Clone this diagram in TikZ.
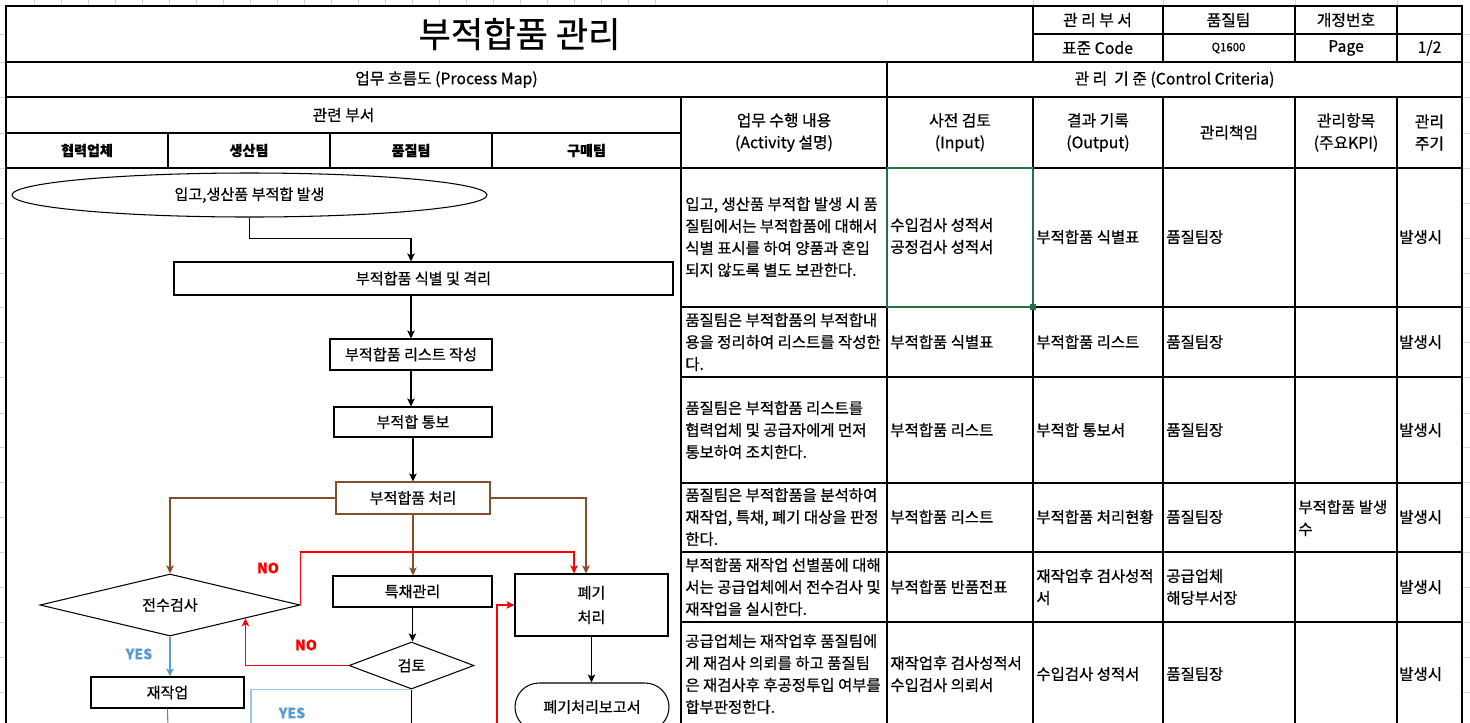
\documentclass[tikz,border=0pt]{standalone}
\usepackage{fontspec}
\setmainfont{Noto Sans CJK KR}[RawFeature={embolden=0.6}]
\usetikzlibrary{arrows.meta, shapes.geometric, shapes.misc, calc}
\definecolor{brownline}{RGB}{132,78,45}
\definecolor{xlblue}{RGB}{91,155,213}
\definecolor{xllightblue}{RGB}{157,195,230}
\definecolor{xlgreen}{RGB}{33,115,70}
\definecolor{gridgray}{RGB}{214,214,214}
\newcommand{\cellfont}{\fontsize{8.8}{12.5}\selectfont}
\newcommand{\flowfont}{\fontsize{8.6}{12.5}\selectfont}
\newcommand{\headfont}{\fontsize{9}{12.5}\selectfont}
\newcommand{\deptfont}{\fontsize{8}{9}\selectfont\bfseries}
\tikzset{
  frame line/.style={
    line width=1.4pt,
    color=black
  },
  table line/.style={
    line width=0.7pt,
    color=black
  },
  grid line/.style={
    line width=0.4pt,
    color=gridgray
  },
  flow arrow/.style={
    -{Stealth[length=4.5pt, width=4.2pt, inset=1pt]},
    line width=0.6pt
  },
  proc box/.style={
    draw,
    rectangle,
    inner sep=0pt,
    line width=0.6pt,
    font=\flowfont
  },
  dec diamond/.style={
    draw,
    diamond,
    inner sep=0pt,
    line width=0.6pt,
    font=\flowfont
  },
  cell text/.style={
    anchor=west,
    align=left,
    inner sep=0pt,
    font=\cellfont
  },
  head text/.style={
    align=center,
    inner sep=0pt,
    font=\headfont
  },
  yes label/.style={
    inner sep=0pt,
    font=\fontsize{8}{9}\selectfont\bfseries,
    text=xlblue
  },
  no label/.style={
    inner sep=0pt,
    font=\fontsize{8}{9}\selectfont\bfseries,
    text=red
  }
}

\begin{document}
\begin{tikzpicture}[x=0.2mm, y=-0.2mm]
    \clip (0,0) rectangle (1470,722);
    \fill[white] (0,0) rectangle (1470,722);

    % 1. 엑셀 눈금선
    \foreach \gx in {34,61,...,681,887,1033,1163,1295,1397}{
      \draw[grid line] (\gx,0) -- (\gx,6);
    }
    \foreach \gy in {34,62,97,133,168,203,238,273,307,342,377,413,447,482,517,552,587,622,657,692}{
      \draw[grid line] (0,\gy) -- (6,\gy);
      \draw[grid line] (1462,\gy) -- (1470,\gy);
    }

    % 2. 표 선
    \draw[table line] (1033,34) -- (1462,34);
    \draw[table line] (6,62) -- (1462,62);
    \draw[table line] (6,97) -- (1462,97);
    \draw[table line] (6,133) -- (681,133);
    \draw[table line] (6,168) -- (1462,168);
    \foreach \ry in {307,377,483,552,622}{
      \draw[table line] (681,\ry) -- (1462,\ry);
    }
    \foreach \cx in {1033,1163,1295,1397}{
      \draw[table line] (\cx,6) -- (\cx,62);
      \draw[table line] (\cx,97) -- (\cx,730);
    }
    \draw[table line] (887,62) -- (887,730);
    \draw[table line] (681,97) -- (681,730);
    \foreach \cx in {168,330,492}{
      \draw[table line] (\cx,133) -- (\cx,168);
    }
    % 바깥 테두리
    \draw[frame line] (6,730) -- (6,6) -- (1462,6) -- (1462,730);
    % 선택된 셀
    \draw[xlgreen, line width=1.1pt] (887,168) rectangle (1033,307);
    \fill[xlgreen] (1030,304) rectangle (1036,310);

    % 3. 머리글
    \node[inner sep=0pt, font=\fontsize{20}{22}\selectfont] (title) at (519.5,34) {부적합품 관리};
    \node[head text] (mgrdept) at (1097.5,20) {관 리 부 서};
    \node[head text] (mgrteam) at (1228.5,20) {품질팀};
    \node[head text] (revno) at (1346,20) {개정번호};
    \node[head text] (stdcode) at (1097.5,48) {표준 Code};
    \node[head text, font=\fontsize{6.5}{8}\selectfont] (codeval) at (1228.5,48) {Q1600};
    \node[head text] (pagelbl) at (1346,48) {Page};
    \node[head text] (pageval) at (1429.5,48) {1/2};
    \node[head text] (procmap) at (446.5,79.5) {업무 흐름도 (Process Map)};
    \node[head text] (criteria) at (1174.5,79.5) {관 리~~기 준 (Control Criteria)};
    \node[head text] (reldept) at (343.5,115) {관련 부서};
    \node[inner sep=0pt, font=\deptfont] (partner) at (87,150.5) {협력업체};
    \node[inner sep=0pt, font=\deptfont] (prodteam) at (249,150.5) {생산팀};
    \node[inner sep=0pt, font=\deptfont] (qteam) at (411,150.5) {품질팀};
    \node[inner sep=0pt, font=\deptfont] (buyteam) at (586.5,150.5) {구매팀};
    \node[head text] (hactivity) at (784,132.5) {업무 수행 내용\\(Activity 설명)};
    \node[head text] (hinput) at (960,132.5) {사전 검토\\(Input)};
    \node[head text] (houtput) at (1098,132.5) {결과 기록\\(Output)};
    \node[head text] (hresp) at (1229,132.5) {관리책임};
    \node[head text] (hkpi) at (1346,132.5) {관리항목\\(주요KPI)};
    \node[head text] (hcycle) at (1429.5,132.5) {관리\\주기};

    % 4. 관리 기준 내용
    \node[cell text] (act1) at (685,237) {입고, 생산품 부적합 발생 시 품\\질팀에서는 부적합품에 대해서\\식별 표시를 하여 양품과 혼입\\되지 않도록 별도 보관한다.};
    \node[cell text] (act2) at (685,342) {품질팀은 부적합품의 부적합내\\용을 정리하여 리스트를 작성한\\다.};
    \node[cell text] (act3) at (685,430) {품질팀은 부적합품 리스트를\\협력업체 및 공급자에게 먼저\\통보하여 조치한다.};
    \node[cell text] (act4) at (685,517) {품질팀은 부적합품을 분석하여\\재작업, 특채, 폐기 대상을 판정\\한다.};
    \node[cell text] (act5) at (685,587) {부적합품 재작업 선별품에 대해\\서는 공급업체에서 전수검사 및\\재작업을 실시한다.};
    \node[cell text] (act6) at (685,674) {공급업체는 재작업후 품질팀에\\게 재검사 의뢰를 하고 품질팀\\은 재검사후 후공정투입 여부를\\합부판정한다.};

    \node[cell text] (in1) at (890,236) {수입검사 성적서\\공정검사 성적서};
    \node[cell text] (in2) at (890,342) {부적합품 식별표};
    \node[cell text] (in3) at (890,430) {부적합품 리스트};
    \node[cell text] (in4) at (890,517) {부적합품 리스트};
    \node[cell text] (in5) at (890,587) {부적합품 반품전표};
    \node[cell text] (in6) at (890,674) {재작업후 검사성적서\\수입검사 의뢰서};

    \node[cell text] (out1) at (1036,237) {부적합품 식별표};
    \node[cell text] (out2) at (1036,342) {부적합품 리스트};
    \node[cell text] (out3) at (1036,430) {부적합 통보서};
    \node[cell text] (out4) at (1036,517) {부적합품 처리현황};
    \node[cell text] (out5) at (1036,587) {재작업후 검사성적\\서};
    \node[cell text] (out6) at (1036,674) {수입검사 성적서};

    \foreach \ry/\rn in {237/1,342/2,430/3,517/4,674/6}{
      \node[cell text] (resp\rn) at (1166,\ry) {품질팀장};
    }
    \node[cell text] (resp5) at (1166,587) {공급업체\\해당부서장};
    \node[cell text] (kpi4) at (1298,518) {부적합품 발생\\수};
    \foreach \ry/\rn in {237/1,342/2,430/3,517/4,587/5,674/6}{
      \node[cell text] (cycle\rn) at (1399,\ry) {발생시};
    }

    % 5. 업무 흐름도
    \node[draw, ellipse, inner sep=0pt, line width=0.6pt, font=\flowfont,
      minimum width=95mm, minimum height=8.8mm] (start) at (249.5,195) {입고,생산품 부적합 발생};
    \node[proc box, minimum width=99.8mm, minimum height=6.6mm] (identify) at (423.5,278.5) {부적합품 식별 및 격리};
    \node[proc box, minimum width=32.4mm, minimum height=6.2mm] (list) at (411,354.5) {부적합품 리스트 작성};
    \node[proc box, minimum width=31.6mm, minimum height=6mm] (notice) at (413,422) {부적합 통보};
    \node[proc box, draw=brownline, minimum width=30.8mm, minimum height=6.4mm] (process) at (413,498) {부적합품 처리};
    \node[dec diamond, aspect=4.2, minimum width=52mm, minimum height=12.4mm] (full) at (170,605) {전수검사};
    \node[proc box, minimum width=31.8mm, minimum height=6.2mm] (special) at (412.5,591.5) {특채관리};
    \node[proc box, align=center, font=\fontsize{8.6}{14}\selectfont,
      minimum width=30.6mm, minimum height=12.4mm] (scrap) at (591.5,605) {폐기\\처리};
    \node[dec diamond, aspect=2.66, minimum width=25mm, minimum height=9.4mm] (review) at (411.5,665.5) {검토};
    \node[proc box, minimum width=30.6mm, minimum height=6.2mm] (rework) at (167.5,692.5) {재작업};
    \node[draw, rounded rectangle, inner sep=0pt, line width=0.6pt, font=\flowfont,
      minimum width=30.8mm, minimum height=9.6mm] (report) at (592,707) {폐기처리보고서};

    \coordinate (reworkend) at (168,730);
    \coordinate (reviewend) at (411.5,730);
    \coordinate (yesend) at (251,730);
    \coordinate (scrapfrom) at (497,730);
    \coordinate (brownin) at ($(scrap.north)+(-5.5,0)$);
    \coordinate (redin) at ($(scrap.north)+(-17.5,0)$);

    \draw[flow arrow] (start.south) -- ++(0,21) -| (list.north |- identify.north);
    \draw[flow arrow] (list.north |- identify.south) -- (list.north);
    \draw[flow arrow] (list.south) -- (list.south |- notice.north);
    \draw[flow arrow] (notice.south) -- (process.north);
    \draw[flow arrow, brownline] (process.west) -| (full.north);
    \draw[flow arrow, brownline] (process.south) -- (process.south |- special.north);
    \draw[flow arrow, brownline] (process.east) -| (brownin);
    \draw[flow arrow, red] (full.east) -- ++(0,-53) -| (redin);
    \draw[flow arrow] (special.south) -- (special.south |- review.north);
    \draw[flow arrow, red] (review.west) -| (full.-10.3);
    \draw[flow arrow, xlblue] (full.south) -- (full.south |- rework.north);
    \draw[line width=0.6pt, gray] (rework.south) -- (reworkend);
    \draw[line width=0.6pt] (review.south) -- (reviewend);
    \draw[line width=0.8pt, xllightblue] (review.south) -| (yesend);
    \draw[flow arrow, red] (scrapfrom) |- (scrap.west);
    \draw[flow arrow] (scrap.south) -- (scrap.south |- report.north);

    \node[no label] (no1) at (268,568) {NO};
    \node[no label] (no2) at (306,645) {NO};
    \node[yes label] (yes1) at (139,654) {YES};
    \node[yes label] (yes2) at (292,713) {YES};

  \end{tikzpicture}
\end{document}
